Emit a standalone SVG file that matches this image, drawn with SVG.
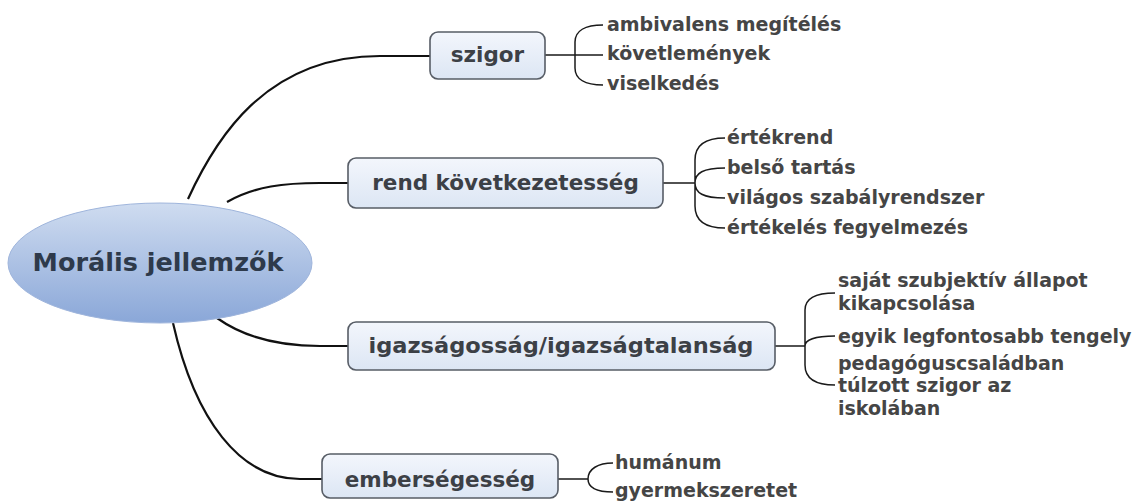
<svg xmlns="http://www.w3.org/2000/svg" width="1133" height="501" viewBox="0 0 1133 501">
<defs>
<linearGradient id="gEll" x1="0" y1="0" x2="0" y2="1">
<stop offset="0" stop-color="#cfdcf0"/>
<stop offset="1" stop-color="#8aa7d8"/>
</linearGradient>
<linearGradient id="gBox" x1="0" y1="0" x2="0" y2="1">
<stop offset="0" stop-color="#f3f6fc"/>
<stop offset="1" stop-color="#dce6f4"/>
</linearGradient>
<style>
.box{fill:url(#gBox);stroke:#575d66;stroke-width:1.6}
.bt{font-family:"DejaVu Sans",Verdana,sans-serif;font-weight:bold;font-size:21.5px;fill:#3c4046;text-anchor:middle}
.lt{font-family:"DejaVu Sans",Verdana,sans-serif;font-weight:bold;font-size:19px;fill:#454545}
.main{fill:none;stroke:#111;stroke-width:2.2}
.thin{fill:none;stroke:#1a1a1a;stroke-width:1.5}
</style>
</defs>
<rect width="1133" height="501" fill="#ffffff"/>
<g id="connectors">
<path class="main" d="M188,199 C215,140 265,56 380,56 L430,56"/>
<path class="main" d="M227,202 C255,186 285,183 320,183 L348,183"/>
<path class="main" d="M217,318 C245,338 280,346 320,346 L348,346"/>
<path class="main" d="M173,323 C195,420 240,479 300,479 L322,479"/>
<path class="thin" d="M545,55 L603,55 M575,55 L575,42 C575,31 585,25 603,25 M575,55 L575,68 C575,79 585,85 603,85"/>
<path class="thin" d="M663,183 L695,183 L695,160 C695,146 705,138 725,138 M695,183 C695,173 703,168 725,168 M695,183 C695,193 703,198 725,198 M695,183 L695,206 C695,220 705,228 725,228"/>
<path class="thin" d="M775,346 L805,346 L805,310 C805,299 815,293 835,293 M805,346 C805,340 815,336 835,336 M805,346 L805,365 C805,378 815,385 835,385"/>
<path class="thin" d="M558,479 L588,479 C588,469 598,463 613,463 M588,479 C588,489 598,492 613,492"/>
</g>
<g id="root">
<ellipse cx="160" cy="263" rx="152" ry="60" fill="url(#gEll)" stroke="#9fb5dc" stroke-width="1"/>
<text x="158" y="271" font-family="DejaVu Sans,Verdana,sans-serif" font-weight="bold" font-size="25.5px" fill="#2e3a4b" text-anchor="middle">Morális jellemzők</text>
</g>
<g id="szigor">
<rect class="box" x="430" y="32" width="115" height="47" rx="8"/>
<text class="bt" x="487.5" y="62">szigor</text>
</g>
<g id="szigor-leaves">
<text class="lt" x="607" y="31">ambivalens megítélés</text>
<text class="lt" x="607" y="60">követlemények</text>
<text class="lt" x="607" y="90">viselkedés</text>
</g>
<g id="rend">
<rect class="box" x="348" y="158" width="315" height="50" rx="8"/>
<text class="bt" x="505.5" y="190">rend következetesség</text>
</g>
<g id="rend-leaves">
<text class="lt" x="727" y="144">értékrend</text>
<text class="lt" x="727" y="174">belső tartás</text>
<text class="lt" x="727" y="204">világos szabályrendszer</text>
<text class="lt" x="727" y="234">értékelés fegyelmezés</text>
</g>
<g id="igazsag">
<rect class="box" x="348" y="322" width="427" height="48" rx="8"/>
<text class="bt" x="561" y="353" textLength="385" lengthAdjust="spacingAndGlyphs">igazságosság/igazságtalanság</text>
</g>
<g id="igazsag-leaves">
<text class="lt" x="838" y="287">saját szubjektív állapot</text>
<text class="lt" x="838" y="310">kikapcsolása</text>
<text class="lt" x="838" y="343">egyik legfontosabb tengely</text>
<text class="lt" x="838" y="370">pedagóguscsaládban</text>
<text class="lt" x="838" y="392">túlzott szigor az</text>
<text class="lt" x="838" y="415">iskolában</text>
</g>
<g id="emberseg">
<rect class="box" x="322" y="454" width="236" height="44" rx="8"/>
<text class="bt" x="440" y="487">emberségesség</text>
</g>
<g id="emberseg-leaves">
<text class="lt" x="615" y="469">humánum</text>
<text class="lt" x="615" y="497">gyermekszeretet</text>
</g>
</svg>
